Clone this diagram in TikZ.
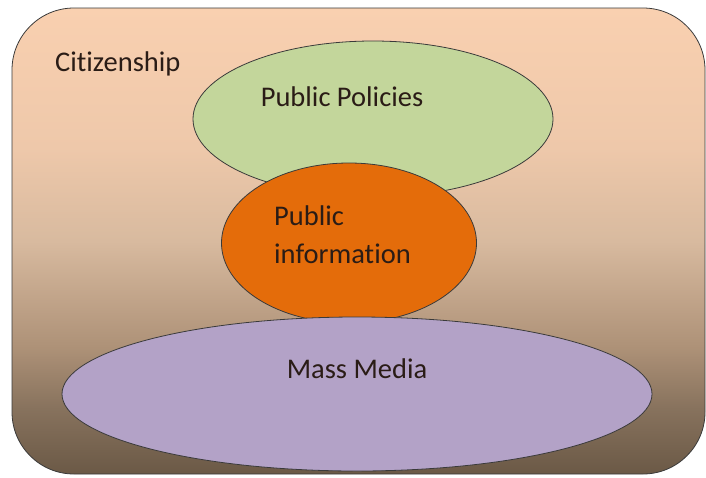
\documentclass[tikz,border=0pt]{standalone}
\usepackage{fontspec}
\setmainfont[Ligatures={NoCommon,NoRare}]{Carlito}
\usetikzlibrary{shapes.geometric}
\definecolor{cbot}{HTML}{6B5946}
\definecolor{cb2}{HTML}{87725D}
\definecolor{cb3}{HTML}{AD9177}
\definecolor{cmid}{HTML}{D8BA9F}
\definecolor{cup}{HTML}{EEC8AA}
\definecolor{ctop}{HTML}{F9D0B0}
\definecolor{cgreen}{HTML}{C3D69B}
\definecolor{corange}{HTML}{E46C0A}
\definecolor{cpurple}{HTML}{B3A2C7}
\definecolor{cline}{HTML}{3A3A3A}
\definecolor{ctext}{HTML}{2A1C16}
\pgfdeclareverticalshading{citshade}{100bp}{color(0bp)=(cbot); color(25bp)=(cbot); color(32bp)=(cb2); color(38.5bp)=(cb3); color(50bp)=(cmid); color(60bp)=(cup); color(75bp)=(ctop); color(100bp)=(ctop)}
\tikzset{
  blob/.style={ellipse, draw=cline, line width=0.8pt, inner sep=0pt},
  lbl/.style={font=\fontsize{28.5}{39}\selectfont, text=ctext, inner sep=0pt},
}
\begin{document}
\begin{tikzpicture}[x=1pt,y=-1pt]
\useasboundingbox (0,0) rectangle (706,477);
\node[draw=cline, line width=0.8pt, rounded corners=62pt, shading=citshade, minimum width=693pt, minimum height=466pt, inner sep=0pt] (cit) at (358.5,241) {};
\node[blob, fill=cgreen, minimum width=360pt, minimum height=156pt] (pp) at (373,119) {};
\node[blob, fill=corange, minimum width=255pt, minimum height=160pt] (pi) at (349,243) {};
\node[blob, fill=cpurple, minimum width=590pt, minimum height=154pt] (mm) at (357,394) {};
\node[lbl, anchor=base west] (tcit) at (55,71) {Citizenship};
\node[lbl, anchor=base] (tpp) at (342,106) {Public Policies};
\node[lbl, anchor=base west, align=left] (tpi1) at (274,225) {Public};
\node[lbl, anchor=base west, align=left] (tpi2) at (274,263) {information};
\node[lbl, anchor=base] (tmm) at (357,378) {Mass Media};
\end{tikzpicture}
\end{document}
